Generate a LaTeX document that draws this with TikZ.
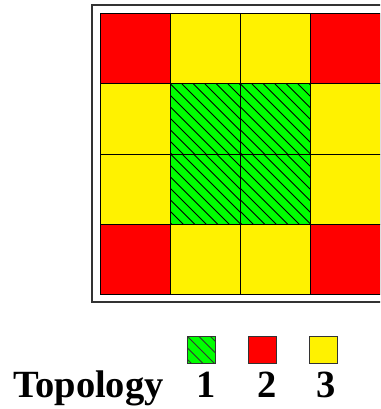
\documentclass[tikz,border=0pt]{standalone}
\usepackage{fontspec}
\setmainfont{Liberation Serif}
\begin{document}
\begin{tikzpicture}[x=1pt, y=-1pt,
    cell/.style={draw=black, line width=0.8pt, minimum size=70pt, inner sep=0pt, anchor=north west},
    hatched/.style={path picture={
        \foreach \k in {-7,...,7}
            \draw[line width=0.8pt] ([xshift=\k*11.5pt]path picture bounding box.north west) -- ++(100pt,-100pt);
    }},
    key/.style={draw=black!80, line width=0.8pt, minimum width=28pt, minimum height=27pt, inner sep=0pt},
    lbl/.style={font=\bfseries\fontsize{38.5}{42}\selectfont, inner sep=0pt, anchor=base}]

    \useasboundingbox (0,0) rectangle (380,409);
    \clip (0,0) rectangle (380,409);

    % --- OUTER FRAME ---
    \draw[black!80, line width=1.2pt] (92,5) rectangle (420,302);

    % --- GRID ---
    \foreach \i/\j in {0/0, 3/0, 0/3, 3/3} {
        \node[cell, fill=red] (c\i\j) at ({100+70*\i}, {13.5+70*\j}) {};
    }
    \foreach \i/\j in {1/0, 2/0, 0/1, 3/1, 0/2, 3/2, 1/3, 2/3} {
        \node[cell, fill=yellow] (c\i\j) at ({100+70*\i}, {13.5+70*\j}) {};
    }
    \foreach \i/\j in {1/1, 2/1, 1/2, 2/2} {
        \node[cell, fill=green, hatched] (c\i\j) at ({100+70*\i}, {13.5+70*\j}) {};
    }

    % --- LEGEND ---
    \node[key, fill=green, hatched] (k1) at (201, 349.5) {};
    \node[key, fill=red] (k2) at (262, 349.5) {};
    \node[key, fill=yellow] (k3) at (323, 349.5) {};

    \node[lbl, anchor=base west] (topo) at (13, 397) {Topology};
    \node[lbl] (n1) at (206, 397) {1};
    \node[lbl] (n2) at (267, 397) {2};
    \node[lbl] (n3) at (326, 397) {3};

\end{tikzpicture}
\end{document}
